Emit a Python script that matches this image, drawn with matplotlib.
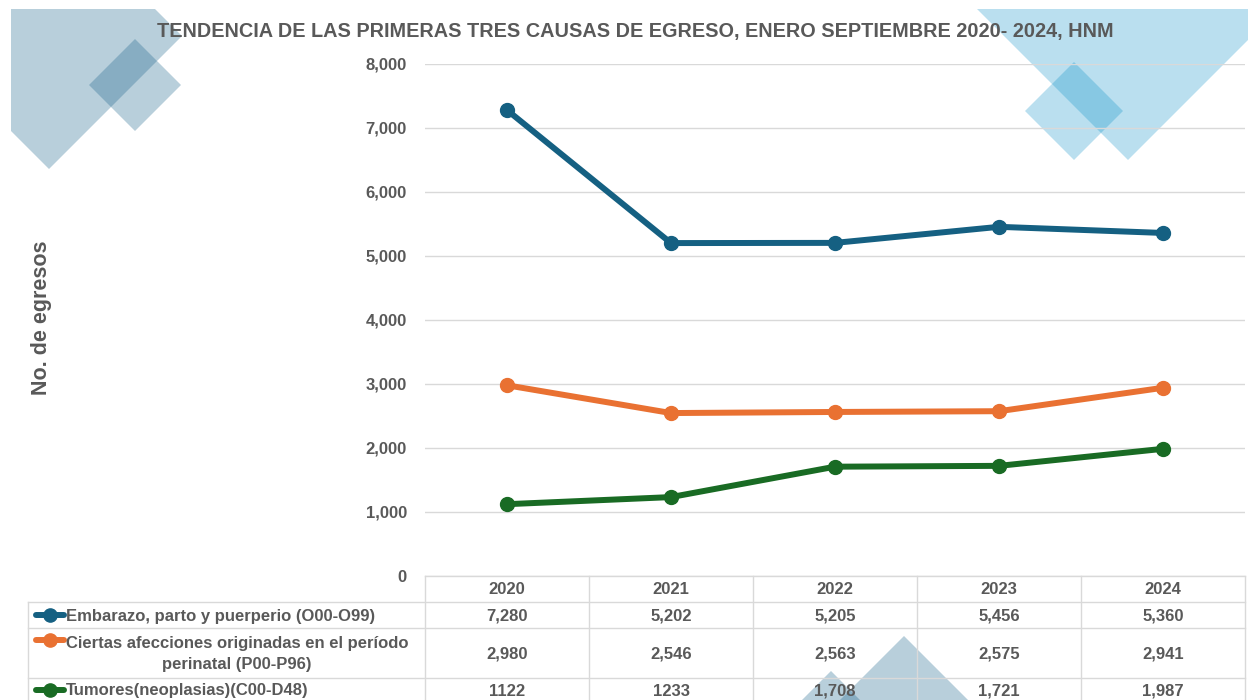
import matplotlib
matplotlib.use("Agg")
import matplotlib.pyplot as plt
from matplotlib.patches import Polygon, Rectangle
from matplotlib.transforms import blended_transform_factory

# ---------------- data ----------------
years = ["2020", "2021", "2022", "2023", "2024"]
embarazo = [7280, 5202, 5205, 5456, 5360]
perinatal = [2980, 2546, 2563, 2575, 2941]
tumores = [1122, 1233, 1708, 1721, 1987]
tumores_table = ["1122", "1233", "1,708", "1,721", "1,987"]
series_names = [
    "Embarazo, parto y puerperio (O00-O99)",
    "Ciertas afecciones originadas en el período\nperinatal (P00-P96)",
    "Tumores(neoplasias)(C00-D48)",
]
title = "TENDENCIA DE LAS PRIMERAS TRES CAUSAS DE EGRESO, ENERO SEPTIEMBRE 2020- 2024, HNM"
ylabel = "No. de egresos"
yticks = [0, 1000, 2000, 3000, 4000, 5000, 6000, 7000, 8000]

# ---------------- style ----------------
W, H = 1248, 700
FONT = "Liberation Sans"
TXT = "#595959"
GRID = "#d9d9d9"
colors = ["#156082", "#E97132", "#196B24"]
plt.rcParams["font.family"] = [FONT, "DejaVu Sans"]
plt.rcParams["font.weight"] = "bold"
FS = 12

fig = plt.figure(figsize=(W / 100, H / 100), dpi=100)

# background decorations (pixel coordinates)
bg = fig.add_axes([0, 0, 1, 1], zorder=0)
bg.set_xlim(0, W)
bg.set_ylim(H, 0)
bg.axis("off")
clip = Rectangle((11, 9), W, H, transform=bg.transData, visible=False)
bg.add_patch(clip)


def diamond(cx, cy, r, color, alpha):
    p = Polygon([(cx, cy - r), (cx + r, cy), (cx, cy + r), (cx - r, cy)],
                closed=True, facecolor=color, edgecolor="none", alpha=alpha)
    bg.add_patch(p)
    p.set_clip_path(clip)


steel = (26 / 255, 100 / 255, 139 / 255)
sky = (0 / 255, 140 / 255, 197 / 255)
diamond(49, 36, 133, steel, 0.31)
diamond(135, 85, 46, steel, 0.31)
diamond(1128, -55, 215, sky, 0.27)
diamond(1074, 111, 49, sky, 0.27)
diamond(904, 636 + 130, 130, steel, 0.31)
diamond(831, 671 + 70, 70, steel, 0.31)

# main chart axes
ax = fig.add_axes([425 / W, (H - 576) / H, 820 / W, 512 / H], zorder=1)
ax.patch.set_alpha(0)
x = list(range(len(years)))
ax.set_xlim(-0.5, len(years) - 0.5)
ax.set_ylim(0, 8000)
ax.set_yticks(yticks)
ax.set_yticklabels([f"{v:,}" for v in yticks], fontsize=FS, fontweight="bold", color=TXT)
ax.tick_params(axis="y", length=0, pad=13)
ax.set_xticks([])
ax.grid(axis="y", color=GRID, lw=1)
ax.set_axisbelow(True)
for s in ax.spines.values():
    s.set_visible(False)

for vals, c in zip([embarazo, perinatal, tumores], colors):
    ax.plot(x, vals, color=c, lw=4.3, marker="o", ms=10,
            solid_capstyle="round", solid_joinstyle="round", zorder=3)

# overlay for table, title, label (pixel y)
ov = fig.add_axes([0, 0, 1, 1], zorder=2)
ov.set_xlim(0, W)
ov.set_ylim(H, 0)
ov.axis("off")
bt = blended_transform_factory(ax.transData, ov.transData)

ov.text(635, 32, title, ha="center", va="center", fontsize=14.3, fontweight="bold", color=TXT)
ov.text(42, 318, ylabel, ha="center", va="center", rotation=90, fontsize=15.5,
        fontweight="bold", color=TXT)

row_edges = [576, 602, 628, 678, 704]
left_x = 28
# horizontal lines
ov.plot([-0.5, len(years) - 0.5], [row_edges[0]] * 2, color=GRID, lw=1, transform=bt)
for y in row_edges[1:]:
    ov.plot([left_x, W - 3], [y, y], color=GRID, lw=1)
# vertical lines
for i in range(len(years) + 1):
    ov.plot([i - 0.5, i - 0.5], [row_edges[0], H], color=GRID, lw=1, transform=bt)
ov.plot([left_x, left_x], [row_edges[1], H], color=GRID, lw=1)

# header
for i, yr in enumerate(years):
    ov.text(i, 590, yr, transform=bt, ha="center", va="center", fontsize=FS,
            fontweight="bold", color=TXT)

row_centers = [616, 654, 691]
key_y = [615, 640, 690]
table_rows = [[f"{v:,}" for v in embarazo], [f"{v:,}" for v in perinatal], tumores_table]
for r, (labels, c, name) in enumerate(zip(table_rows, colors, series_names)):
    for i, lab in enumerate(labels):
        ov.text(i, row_centers[r], lab, transform=bt, ha="center", va="center",
                fontsize=FS, fontweight="bold", color=TXT)
    ov.plot([36, 64], [key_y[r]] * 2, color=c, lw=4.3, solid_capstyle="round")
    ov.plot([50], [key_y[r]], marker="o", ms=9.5, color=c)
    ov.text(66, row_centers[r], name, ha="left", va="center", multialignment="center",
            fontsize=FS, fontweight="bold", color=TXT, linespacing=1.45)

fig.savefig("out.png", dpi=100)
